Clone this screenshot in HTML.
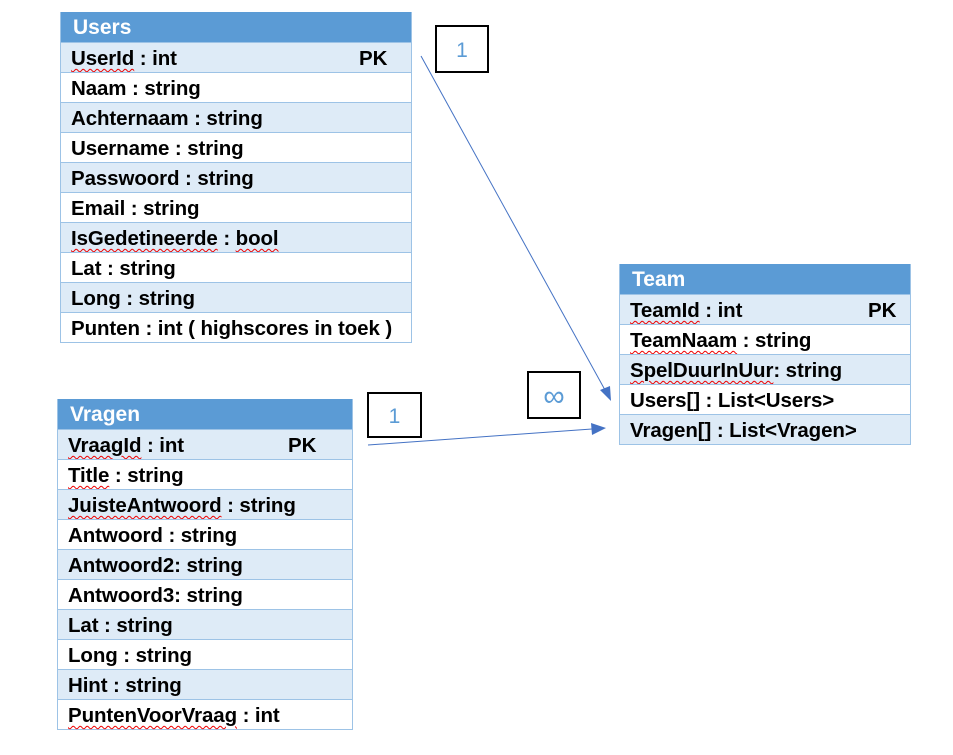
<!DOCTYPE html>
<html><head><meta charset="utf-8">
<style>
body{margin:0;width:953px;height:755px;background:#fff;position:relative;font-family:"Liberation Sans",Arial,sans-serif;overflow:hidden}
.t{position:absolute;border:1px solid #9dc3e6;border-top:none;box-sizing:border-box}
.h{height:30px;background:#5b9bd5;color:#fff;font-weight:bold;font-size:21px;line-height:32px;padding-left:12px}
.r{height:30px;border-top:1px solid #9dc3e6;box-sizing:border-box;font-weight:bold;font-size:20.5px;line-height:31px;padding-left:10px;color:#000;position:relative;white-space:nowrap;letter-spacing:-0.1px}
.r:nth-child(even){background:#deebf7}
.pk{position:absolute;top:0}
.u{text-decoration:underline wavy #e00;text-decoration-thickness:1px;text-underline-offset:3px}
.b{position:absolute;border:2px solid #000;box-sizing:border-box;color:#5b9bd5;font-size:21px;text-align:center}
</style></head><body>
<div class="t" style="left:60px;top:12px;width:352px">
<div class="h">Users</div>
<div class="r"><span class="u">UserId</span> : int<span class="pk" style="left:298px">PK</span></div>
<div class="r">Naam : string</div>
<div class="r">Achternaam : string</div>
<div class="r">Username : string</div>
<div class="r">Passwoord : string</div>
<div class="r">Email : string</div>
<div class="r"><span class="u">IsGedetineerde</span> : <span class="u">bool</span></div>
<div class="r">Lat : string</div>
<div class="r">Long : string</div>
<div class="r">Punten : int ( highscores in toek )</div>
</div>
<div class="t" style="left:619px;top:264px;width:292px">
<div class="h">Team</div>
<div class="r"><span class="u">TeamId</span> : int<span class="pk" style="left:248px">PK</span></div>
<div class="r"><span class="u">TeamNaam</span> : string</div>
<div class="r"><span class="u">SpelDuurInUur</span>: string</div>
<div class="r">Users[] : List&lt;Users&gt;</div>
<div class="r">Vragen[] : List&lt;Vragen&gt;</div>
</div>
<div class="t" style="left:57px;top:399px;width:296px">
<div class="h">Vragen</div>
<div class="r"><span class="u">VraagId</span> : int<span class="pk" style="left:230px">PK</span></div>
<div class="r"><span class="u">Title</span> : string</div>
<div class="r"><span class="u">JuisteAntwoord</span> : string</div>
<div class="r">Antwoord : string</div>
<div class="r">Antwoord2: string</div>
<div class="r">Antwoord3: string</div>
<div class="r">Lat : string</div>
<div class="r">Long : string</div>
<div class="r">Hint : string</div>
<div class="r"><span class="u">PuntenVoorVraag</span> : int</div>
</div>
<div class="b" style="left:435px;top:25px;width:54px;height:48px;line-height:48px">1</div>
<div class="b" style="left:527px;top:371px;width:54px;height:48px;line-height:48px;font-size:30px">∞</div>
<div class="b" style="left:367px;top:392px;width:55px;height:46px;line-height:46px">1</div>
<svg width="953" height="755" style="position:absolute;left:0;top:0">
<line x1="421" y1="56" x2="605" y2="390" stroke="#4472c4" stroke-width="1"/>
<polygon points="611,401 600,390 610,386" fill="#4472c4"/>
<line x1="368" y1="445" x2="592" y2="429" stroke="#4472c4" stroke-width="1"/>
<polygon points="606,428 591,423 592,435" fill="#4472c4"/>
</svg>
</body></html>
